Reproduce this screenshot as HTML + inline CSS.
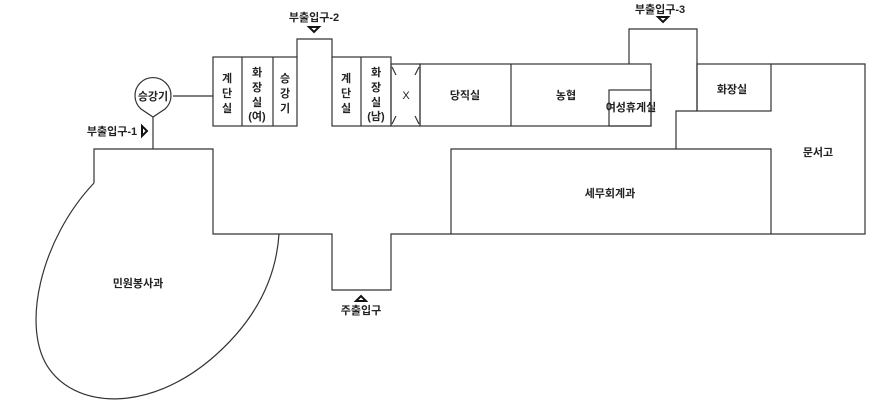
<!DOCTYPE html>
<html><head><meta charset="utf-8"><style>
html,body{margin:0;padding:0;background:#fff;}
svg{display:block;}
text{font-family:"Liberation Sans","Noto Sans CJK KR",sans-serif;font-size:11px;font-weight:bold;fill:#222;text-anchor:middle;}
</style></head><body>
<svg width="891" height="417" viewBox="0 0 891 417" xmlns="http://www.w3.org/2000/svg">
<g fill="none" stroke="#333" stroke-width="1.2">
<rect x="213" y="57" width="84" height="69"/>
<line x1="242" y1="57" x2="242" y2="126"/>
<line x1="273" y1="57" x2="273" y2="126"/>
<polyline points="297,57 297,39 332,39 332,57"/>
<rect x="332" y="57" width="59" height="69"/>
<line x1="361" y1="57" x2="361" y2="126"/>
<rect x="391" y="64" width="29" height="62"/>
<line x1="392" y1="67" x2="396" y2="75"/><line x1="419" y1="67" x2="415" y2="75"/>
<line x1="392" y1="124" x2="396" y2="116"/><line x1="419" y1="124" x2="415" y2="116"/>
<rect x="420" y="64" width="231" height="62"/>
<line x1="511" y1="64" x2="511" y2="126"/>
<rect x="609" y="90" width="42" height="36"/>
<polyline points="629,64 629,29 697,29 697,111"/>
<rect x="697" y="64" width="74" height="47"/>
<polyline points="771,64 865,64 865,234 451,234 451,149 771,149 771,234"/>
<polyline points="676,149 676,111 697,111"/>
<path d="M141,109 A18,18 0 1 1 165,109 L153,117 Z"/>
<line x1="173" y1="96" x2="213" y2="96"/>
<line x1="153" y1="117" x2="153" y2="149"/>
<polyline points="94,183 94,149 213,149 213,234 332,234 332,290 391,290 391,234 451,234"/>
<path d="M94,183 C40,240 20,330 50,370 C80,410 150,410 210,360 C255,322 276,280 279,234"/>
</g>
<g fill="none" stroke="#111" stroke-width="2">
<polygon points="309,27 319,27 314,32"/>
<polygon points="658,17 668,17 663,22"/>
<polygon points="142,126 142,136 147,131"/>
<polygon points="356,301 366,301 361,296"/>
</g>
<text x="314" y="21">부출입구-2</text>
<text x="660" y="13">부출입구-3</text>
<text x="112" y="135">부출입구-1</text>
<text x="361" y="314">주출입구</text>
<text x="153" y="100">승강기</text>
<text x="227" y="82">계</text><text x="227" y="97">단</text><text x="227" y="112">실</text>
<text x="257" y="76">화</text><text x="257" y="91">장</text><text x="257" y="106">실</text><text x="257" y="120">(여)</text>
<text x="285" y="82">승</text><text x="285" y="97">강</text><text x="285" y="112">기</text>
<text x="346" y="82">계</text><text x="346" y="97">단</text><text x="346" y="112">실</text>
<text x="376" y="76">화</text><text x="376" y="91">장</text><text x="376" y="106">실</text><text x="376" y="120">(남)</text>
<text x="406" y="99" style="font-weight:normal">X</text>
<text x="465" y="99">당직실</text>
<text x="566" y="99">농협</text>
<text x="631" y="111">여성휴게실</text>
<text x="732" y="93">화장실</text>
<text x="818" y="156">문서고</text>
<text x="610" y="197">세무회계과</text>
<text x="138" y="287">민원봉사과</text>
</svg>
</body></html>
